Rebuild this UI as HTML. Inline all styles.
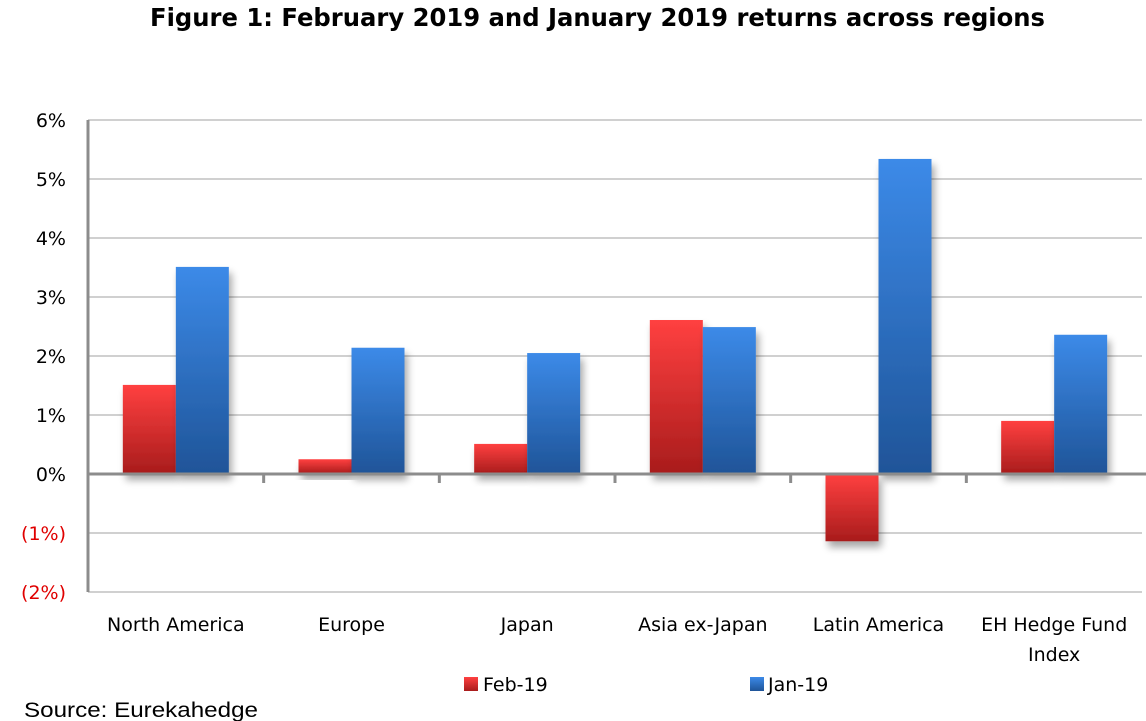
<!DOCTYPE html>
<html><head><meta charset="utf-8">
<style>
html,body{margin:0;padding:0;background:#fff;width:1146px;height:721px;overflow:hidden;}
text{font-family:"DejaVu Sans","Liberation Sans",sans-serif;}
</style></head>
<body>
<svg id="chart" width="1146" height="721" xmlns="http://www.w3.org/2000/svg">
<defs>
<linearGradient id="gRed" x1="0" y1="0" x2="0" y2="1"><stop offset="0" stop-color="#ff4040"/><stop offset="1" stop-color="#a81c1c"/></linearGradient>
<linearGradient id="gBlue" x1="0" y1="0" x2="0" y2="1"><stop offset="0" stop-color="#3c8ae8"/><stop offset="1" stop-color="#1f5498"/></linearGradient>
<filter id="sh" x="-20%" y="-20%" width="140%" height="160%"><feGaussianBlur in="SourceAlpha" stdDeviation="4"/><feOffset dx="3" dy="6"/><feComponentTransfer><feFuncA type="linear" slope="0.35"/></feComponentTransfer><feMerge><feMergeNode/><feMergeNode in="SourceGraphic"/></feMerge></filter>
</defs>
<text x="150" y="26" textLength="895" lengthAdjust="spacingAndGlyphs" font-size="25" font-weight="bold" fill="#000">Figure 1: February 2019 and January 2019 returns across regions</text>
<g id="grid"></g>
<g id="bars"></g>
<g id="axes"></g>
<g id="labels"></g>
<g>
<rect x="464" y="677" width="14" height="14" fill="url(#gRed)"/>
<text x="483" y="691" font-size="19" fill="#000">Feb-19</text>
<rect x="750" y="677" width="14" height="14" fill="url(#gBlue)"/>
<text x="768" y="691" font-size="19" fill="#000">Jan-19</text>
</g>
<text x="24" y="717" textLength="234" lengthAdjust="spacingAndGlyphs" font-size="21" fill="#000" style="font-family:'Liberation Sans',sans-serif">Source: Eurekahedge</text>
</svg>
<script>
const categories = [["North America"],["Europe"],["Japan"],["Asia ex-Japan"],["Latin America"],["EH Hedge Fund","Index"]];
const feb19 = [1.51, 0.25, 0.51, 2.61, -1.14, 0.90];
const jan19 = [3.51, 2.14, 2.05, 2.49, 5.34, 2.36];
const ticks = [6,5,4,3,2,1,0,-1,-2];
const tickLabels = ["6%","5%","4%","3%","2%","1%","0%","(1%)","(2%)"];

const NS="http://www.w3.org/2000/svg";
const L=88,R=1142,Y0=474,PX=59;
const y=v=>Y0-v*PX;
const cw=(R-L)/categories.length;
const cx=i=>L+cw*(i+0.5);
function mk(tag,attrs,parent){const e=document.createElementNS(NS,tag);for(const k in attrs)e.setAttribute(k,attrs[k]);parent.appendChild(e);return e;}
const grid=document.getElementById('grid'),bars=document.getElementById('bars'),axes=document.getElementById('axes'),labels=document.getElementById('labels');
ticks.forEach((t,i)=>{
  if(t!==0){const g=mk('line',{x1:L,x2:R,y1:y(t),y2:y(t),stroke:'#a0a0a0','stroke-width':1},grid);
  
  }
  const tx=mk('text',{x:66,y:y(t)+7,'text-anchor':'end','font-size':19,fill:t<0?'#e00000':'#000'},labels);
  tx.textContent=tickLabels[i];
  
  
});
const bw=53;
categories.forEach((c,i)=>{
  [[feb19[i],'url(#gRed)',-bw,'bar-feb'],[jan19[i],'url(#gBlue)',0,'bar-jan']].forEach(([v,f,off,nm])=>{
    const top=Math.min(y(v),Y0),h=Math.abs(y(v)-Y0);
    const r=mk('rect',{x:cx(i)+off,y:top,width:bw,height:h,fill:f,filter:'url(#sh)'},bars);
    
    
  });
  c.forEach((line,j)=>{
    const t=mk('text',{x:cx(i),y:631+j*30,'text-anchor':'middle','font-size':19,fill:'#000'},labels);
    t.textContent=line;
    
    
  });
  if(i>0){const tk=mk('line',{x1:L+cw*i,x2:L+cw*i,y1:Y0,y2:Y0+9,stroke:'#8c8c8c','stroke-width':3},axes);
  
  }
});
const ya=mk('line',{x1:L,x2:L,y1:y(6),y2:y(-2),stroke:'#8c8c8c','stroke-width':3},axes);


const xa=mk('line',{x1:L,x2:R+4,y1:Y0,y2:Y0,stroke:'#8c8c8c','stroke-width':3},axes);


</script>
</body></html>
